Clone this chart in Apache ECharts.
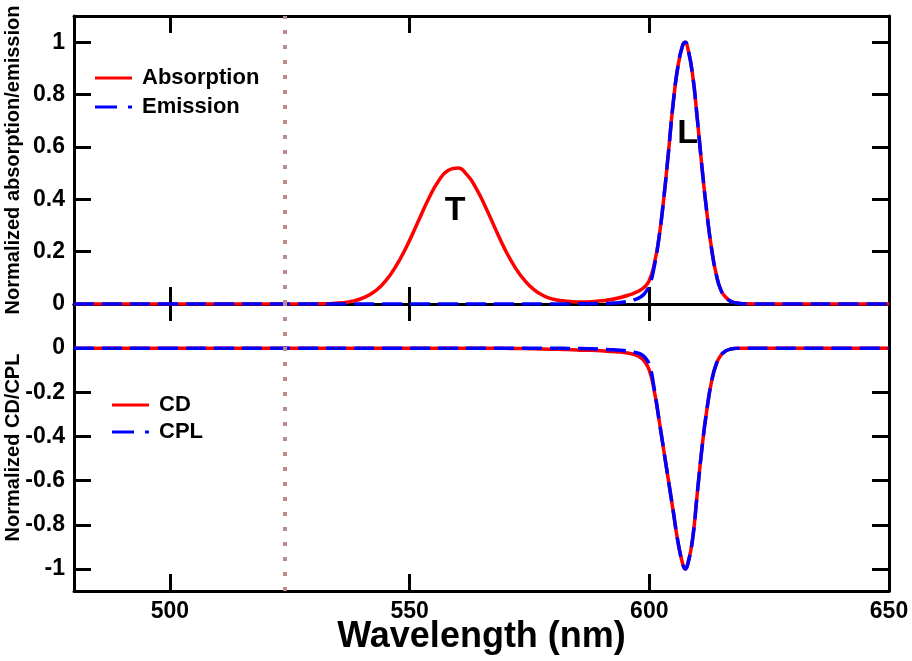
<!DOCTYPE html>
<html>
<head>
<meta charset="utf-8">
<script src="https://cdn.jsdelivr.net/npm/echarts@6/dist/echarts.min.js"></script>
<style>
html, body { margin: 0; padding: 0; background: #fff; }
#main { width: 912px; height: 661px; }
</style>
</head>
<body>
<div id="main"></div>
<script>
// wavelength grid (nm)
var wavelength = [480, 490, 500, 510, 520, 525,
  530, 532, 534, 536, 538, 540, 542, 544, 546, 548, 550, 552, 554, 556, 558, 560, 562, 564, 566, 568, 570, 572, 574, 576, 578, 580,
  582, 584, 586, 588, 590, 592, 594, 596,
  597, 598, 599, 600,
  601, 602, 603, 604, 605, 606, 607, 607.5,
  608, 609, 610, 611, 612, 613, 614, 615, 616, 617, 618, 619, 620,
  622, 625, 630, 640, 650];

var absorption = [0, 0, 0, 0, 0, 0,
  0.0003, 0.0009, 0.0022, 0.005, 0.0105, 0.021, 0.039, 0.068, 0.112, 0.171, 0.243, 0.324, 0.403, 0.469, 0.510, 0.519, 0.493, 0.438, 0.364, 0.283, 0.205, 0.140, 0.090, 0.054, 0.031, 0.018,
  0.012, 0.009, 0.008, 0.009, 0.012, 0.017, 0.025, 0.036,
  0.043, 0.052, 0.065, 0.09,
  0.15, 0.25, 0.40, 0.58, 0.77, 0.91, 0.99, 1.0,
  0.98, 0.88, 0.71, 0.52, 0.35, 0.21, 0.11, 0.05, 0.025, 0.01, 0.005, 0.002, 0.001,
  0, 0, 0, 0, 0];

var emission = [0, 0, 0, 0, 0, 0,
  0, 0, 0, 0, 0, 0, 0, 0, 0, 0, 0, 0, 0, 0, 0, 0, 0, 0, 0, 0, 0, 0, 0, 0, 0, 0,
  0, 0, 0.001, 0.001, 0.002, 0.003, 0.006, 0.012,
  0.017, 0.025, 0.04, 0.07,
  0.14, 0.25, 0.40, 0.58, 0.77, 0.91, 0.99, 1.0,
  0.98, 0.88, 0.71, 0.52, 0.35, 0.21, 0.11, 0.05, 0.025, 0.01, 0.005, 0.002, 0.001,
  0, 0, 0, 0, 0];

var cd = [0, 0, 0, 0, 0, 0,
  0, 0, 0, 0, 0, 0, 0, 0, 0, 0, 0, 0, 0, 0, 0, 0, 0, 0, 0, 0, -0.001, -0.002, -0.002, -0.003, -0.004, -0.005,
  -0.006, -0.007, -0.009, -0.010, -0.012, -0.015, -0.018, -0.024,
  -0.03, -0.04, -0.06, -0.10,
  -0.19, -0.32, -0.46, -0.60, -0.74, -0.88, -0.98, -1.0,
  -0.98, -0.87, -0.66, -0.45, -0.28, -0.15, -0.07, -0.03, -0.012, -0.004, -0.001, 0, 0,
  0, 0, 0, 0, 0];

var cpl = [0, 0, 0, 0, 0, 0,
  0, 0, 0, 0, 0, 0, 0, 0, 0, 0, 0, 0, 0, 0, 0, 0, 0, 0, 0, 0, 0, 0, 0, 0, -0.001, -0.001,
  -0.001, -0.002, -0.002, -0.003, -0.005, -0.007, -0.010, -0.015,
  -0.019, -0.025, -0.04, -0.075,
  -0.18, -0.32, -0.46, -0.60, -0.74, -0.88, -0.98, -1.0,
  -0.98, -0.87, -0.66, -0.45, -0.28, -0.15, -0.07, -0.03, -0.012, -0.004, -0.001, 0, 0,
  0, 0, 0, 0, 0];

var xTicks = [500, 550, 600, 650];
var topTicks = [0, 0.2, 0.4, 0.6, 0.8, 1];
var bottomTicks = [-1, -0.8, -0.6, -0.4, -0.2, 0];
var markerWavelength = 524;

// band labels (anchor = bottom of the letter)
var bandNames = ['T', 'L'];
var bandX = [559.5, 608];
var bandY = [0.29, 0.585];

function pairs(xs, ys) {
  return xs.map(function (x, i) { return [x, ys[i]]; });
}

var dom = document.getElementById('main');
var myChart = echarts.init(dom, null, { renderer: 'canvas' });

var FONT = 'Liberation Sans';
var axisLine = { show: true, onZero: false, lineStyle: { color: '#000', width: 3 } };
var tickStyle = { color: '#000', width: 3 };

function xAxis(grid, pos, showLabel) {
  var ax = {
    type: 'value', gridIndex: grid, position: pos, min: 480, max: 650,
    axisLine: axisLine,
    axisTick: { show: true, inside: true, length: 17, lineStyle: tickStyle, customValues: xTicks },
    axisLabel: { show: showLabel, customValues: xTicks, color: '#000', fontFamily: FONT, fontWeight: 'bold', fontSize: 23, margin: 9 },
    splitLine: { show: false }
  };
  if (showLabel) {
    ax.name = 'Wavelength (nm)';
    ax.nameLocation = 'middle';
    ax.nameGap = 28;
    ax.nameMoveOverlap = false;
    ax.nameTextStyle = { color: '#000', fontFamily: FONT, fontWeight: 'bold', fontSize: 36 };
  }
  return ax;
}

function yAxis(grid, pos, min, max, ticks, name) {
  var ax = {
    type: 'value', gridIndex: grid, position: pos, min: min, max: max,
    axisLine: axisLine,
    axisTick: { show: true, inside: true, length: 17, lineStyle: tickStyle, customValues: ticks },
    axisLabel: { show: !!name, customValues: ticks, color: '#000', fontFamily: FONT, fontWeight: 'bold', fontSize: 23, margin: 9 },
    splitLine: { show: false }
  };
  if (name) {
    ax.name = name;
    ax.nameLocation = 'middle';
    ax.nameGap = 51;
    ax.nameMoveOverlap = false;
    ax.nameTextStyle = { color: '#000', fontFamily: FONT, fontWeight: 'bold', fontSize: 20 };
  }
  return ax;
}

var markLine = {
  silent: true,
  symbol: ['none', 'none'],
  label: { show: false },
  lineStyle: { color: '#bf8a8a', width: 4, type: [4, 11] },
  data: [{ xAxis: markerWavelength }]
};

function lineSeries(name, xi, yi, data, color, dashed, withMark) {
  var s = {
    name: name, type: 'line', xAxisIndex: xi, yAxisIndex: yi,
    data: pairs(wavelength, data),
    showSymbol: false, smooth: 0.5,
    lineStyle: { color: color, width: 3.5, type: dashed ? [20, 8] : 'solid' },
    itemStyle: { color: color },
    z: dashed ? 4 : 3
  };
  if (withMark) s.markLine = markLine;
  return s;
}

var legendText = { color: '#000', fontFamily: FONT, fontWeight: 'bold', fontSize: 22, padding: [0, 0, 0, 5] };
var solidIcon = 'path://M0 0H37V3H0Z';
var dashDotIcon = 'path://M0 0H22V3H0Z M33 0H37V3H33Z';

var option = {
  backgroundColor: '#fff',
  animation: false,
  grid: [
    { left: 74, top: 16, width: 815, height: 288, outerBoundsMode: 'none', containLabel: false },
    { left: 74, top: 304, width: 815, height: 287, outerBoundsMode: 'none', containLabel: false }
  ],
  legend: [
    {
      orient: 'vertical', left: 90, top: 62, itemWidth: 37, itemHeight: 3, itemGap: 7,
      selectedMode: false, textStyle: legendText,
      data: [{ name: 'Absorption', icon: solidIcon }, { name: 'Emission', icon: dashDotIcon }]
    },
    {
      orient: 'vertical', left: 107, top: 389, itemWidth: 37, itemHeight: 3, itemGap: 5,
      selectedMode: false, textStyle: legendText,
      data: [{ name: 'CD', icon: solidIcon }, { name: 'CPL', icon: dashDotIcon }]
    }
  ],
  xAxis: [
    xAxis(0, 'bottom', false),
    xAxis(0, 'top', false),
    xAxis(1, 'top', false),
    xAxis(1, 'bottom', true)
  ],
  yAxis: [
    yAxis(0, 'left', 0, 1.1, topTicks, 'Normalized absorption/emission'),
    yAxis(0, 'right', 0, 1.1, topTicks, null),
    yAxis(1, 'left', -1.1, 0.2, bottomTicks, 'Normalized CD/CPL'),
    yAxis(1, 'right', -1.1, 0.2, bottomTicks, null)
  ],
  series: [
    lineSeries('Absorption', 0, 0, absorption, '#ff0000', false, true),
    lineSeries('Emission', 0, 0, emission, '#0000ff', true, false),
    lineSeries('CD', 3, 2, cd, '#ff0000', false, true),
    lineSeries('CPL', 3, 2, cpl, '#0000ff', true, false),
    {
      type: 'scatter', xAxisIndex: 0, yAxisIndex: 0, symbol: 'circle', symbolSize: 1, silent: true, z: 6,
      itemStyle: { color: '#ffffff', opacity: 1 },
      data: bandNames.map(function (n, i) { return { name: n, value: [bandX[i], bandY[i]] }; }),
      label: {
        show: true, position: 'top', distance: 0, formatter: '{b}',
        color: '#000000', fontFamily: FONT, fontWeight: 'bold', fontSize: 34
      }
    }
  ]
};

myChart.setOption(option);
window.addEventListener('resize', myChart.resize);
</script>
</body>
</html>
